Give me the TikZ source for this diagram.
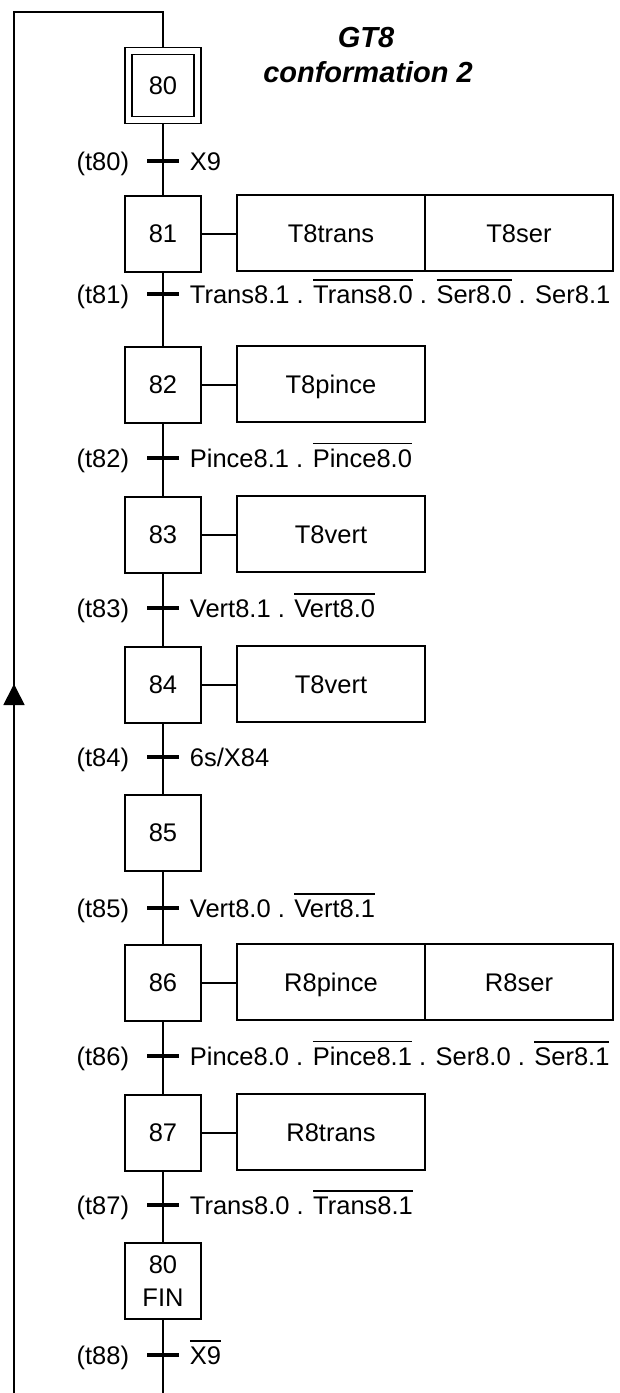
\documentclass[tikz,border=0pt]{standalone}
\usepackage{fontspec}
\setmainfont{Liberation Sans}
\usetikzlibrary{arrows.meta}

% overlined (negated) variable
\newcommand{\ovl}[1]{\leavevmode\vbox{\hrule height 1.3pt\kern 4.5pt\hbox{#1}}}

\begin{document}
\begin{tikzpicture}[x=1pt,y=-1pt,
  line width=1.8pt,
  txt/.style={font=\fontsize{25.5}{33}\selectfont, inner sep=0pt},
  stepbox/.style={txt, draw, minimum width=76pt, minimum height=76pt, align=center},
  actbox/.style={txt, draw, minimum width=188pt, minimum height=76pt,
                 text height=18.5pt, text depth=0pt},
  trbar/.style={line width=4.8pt},
  trlabel/.style={txt, anchor=base east},
  trcond/.style={txt, anchor=base west},
  title/.style={font=\bfseries\itshape\fontsize{29}{35}\selectfont, inner sep=0pt, anchor=base}
]
\useasboundingbox (0,0) rectangle (620,1393);
\fill[white] (0,0) rectangle (620,1393);

% title
\node[title] (ttl1) at (366,47) {GT8};
\node[title] (ttl2) at (368,82) {conformation 2};

% steps
\node[stepbox] (s80) at (163,85.5) {};
\node[draw, minimum width=62pt, minimum height=62pt, txt] (s80i) at (163,85.5) {80};
\node[stepbox] (s81) at (163,234) {81};
\node[stepbox] (s82) at (163,385) {82};
\node[stepbox] (s83) at (163,535) {83};
\node[stepbox] (s84) at (163,685) {84};
\node[stepbox] (s85) at (163,833) {85};
\node[stepbox] (s86) at (163,983) {86};
\node[stepbox] (s87) at (163,1133) {87};
\node[stepbox] (sfin) at (163,1281) {80\\FIN};

% actions
\node[actbox] (a81a) at (331,233) {T8trans};
\node[actbox] (a81b) at (519,233) {T8ser};
\node[actbox] (a82) at (331,384) {T8pince};
\node[actbox] (a83) at (331,534) {T8vert};
\node[actbox] (a84) at (331,684) {T8vert};
\node[actbox] (a86a) at (331,982) {R8pince};
\node[actbox] (a86b) at (519,982) {R8ser};
\node[actbox] (a87) at (331,1132) {R8trans};

\foreach \s/\a in {s81/a81a, s82/a82, s83/a83, s84/a84, s86/a86a, s87/a87}
  \draw (\s.east) -- (\s.east -| \a.west);

% links between steps
\draw (s80.south) -- (s81.north);
\foreach \u/\v in {s81/s82, s82/s83, s83/s84, s84/s85, s85/s86, s86/s87, s87/sfin}
  \draw (\u.south) -- (\v.north);
\coordinate (endmain) at (163,1393);
\draw (sfin.south) -- (endmain);

% return loop
\coordinate (loopbot) at (14,1393);
\coordinate (looptl) at (14,12);
\coordinate (looptr) at (163,12);
\draw (loopbot) -- (looptl) -- (looptr) -- (s80.north);
\coordinate (arrbase) at (14,706);
\coordinate (arrtip) at (14,684);
\draw[-{Triangle[length=21pt,width=21pt]}] (arrbase) -- (arrtip);

% transitions
\foreach \n/\y in {80/161, 81/294, 82/458, 83/608, 84/757, 85/908, 86/1056, 87/1205, 88/1355}{
  \coordinate (t\n) at (163,\y);
  \draw[trbar] ([xshift=-16pt]t\n) -- ([xshift=16pt]t\n);
  \node[trlabel] (lt\n) at ([xshift=-33pt,yshift=-9pt]t\n) {(t\n)};
}
\node[trcond] (c80) at ([xshift=26pt,yshift=-9pt]t80) {X9};
\node[trcond] (c81) at ([xshift=26pt,yshift=-9pt]t81) {Trans8.1 . \ovl{Trans8.0} . \ovl{Ser8.0} . Ser8.1};
\node[trcond] (c82) at ([xshift=26pt,yshift=-9pt]t82) {Pince8.1 . \ovl{Pince8.0}};
\node[trcond] (c83) at ([xshift=26pt,yshift=-9pt]t83) {Vert8.1 . \ovl{Vert8.0}};
\node[trcond] (c84) at ([xshift=26pt,yshift=-9pt]t84) {6s/X84};
\node[trcond] (c85) at ([xshift=26pt,yshift=-9pt]t85) {Vert8.0 . \ovl{Vert8.1}};
\node[trcond] (c86) at ([xshift=26pt,yshift=-9pt]t86) {Pince8.0 . \ovl{Pince8.1} . Ser8.0 . \ovl{Ser8.1}};
\node[trcond] (c87) at ([xshift=26pt,yshift=-9pt]t87) {Trans8.0 . \ovl{Trans8.1}};
\node[trcond] (c88) at ([xshift=26pt,yshift=-9pt]t88) {\ovl{X9}};
\end{tikzpicture}
\end{document}
